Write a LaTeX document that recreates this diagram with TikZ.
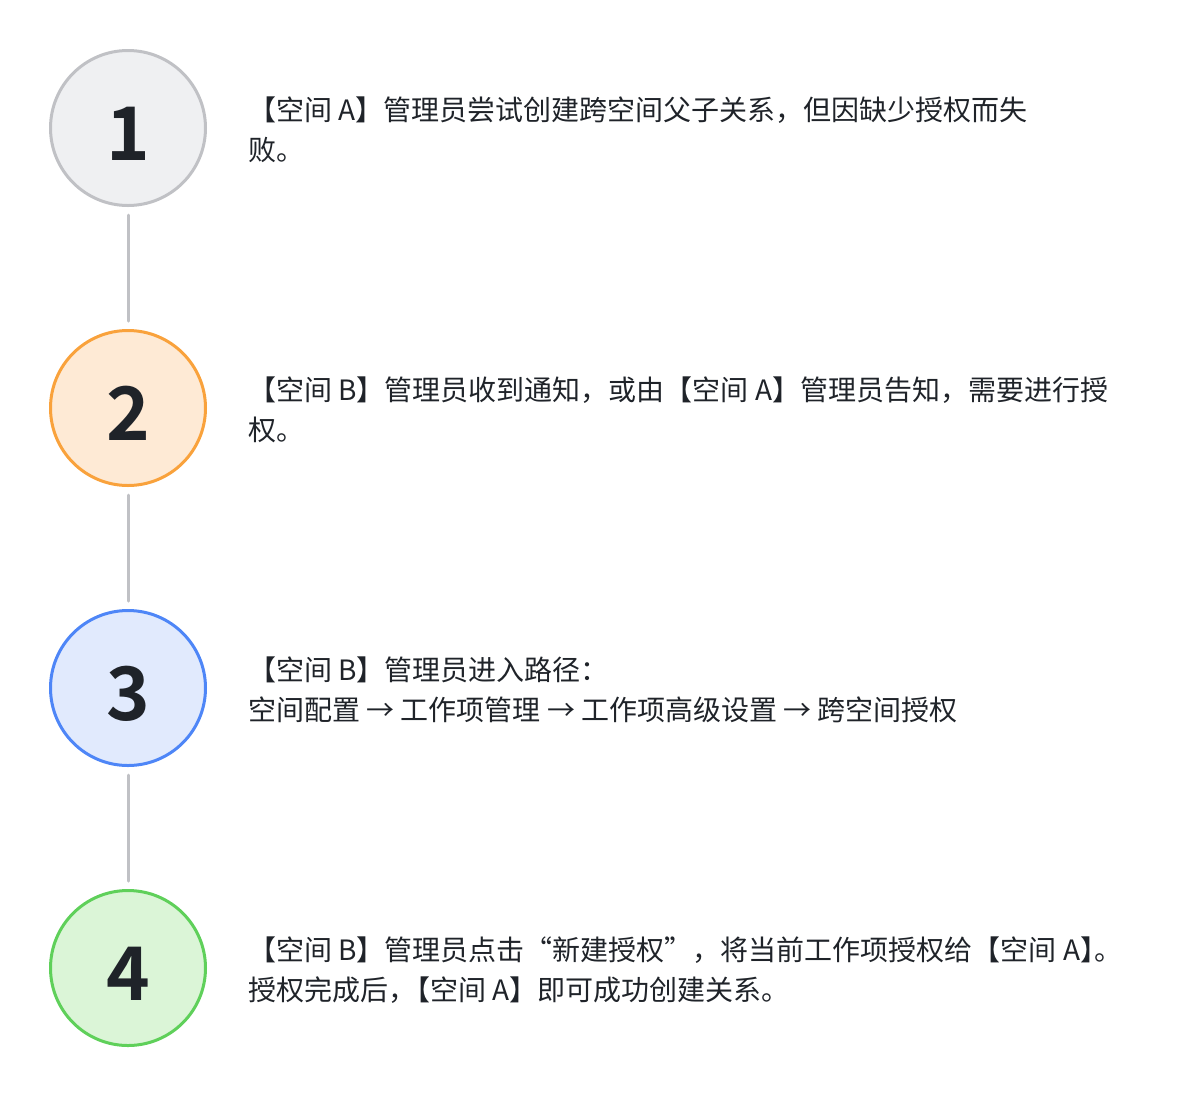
\documentclass[tikz,border=0pt]{standalone}
\usepackage{fontspec}
\setmainfont{Noto Sans CJK SC}
\newfontfamily\numfont{Noto Sans CJK SC Bold}
\usetikzlibrary{chains, positioning}

\definecolor{inkdark}{HTML}{1F2329}
\definecolor{linegray}{HTML}{C0C1C5}
\definecolor{grayfill}{HTML}{EFF0F2}
\definecolor{orangeline}{HTML}{F9A23C}
\definecolor{orangefill}{HTML}{FEEAD5}
\definecolor{blueline}{HTML}{4E86F7}
\definecolor{bluefill}{HTML}{E1EAFD}
\definecolor{greenline}{HTML}{5FD05A}
\definecolor{greenfill}{HTML}{DBF5D7}

\tikzset{
  stepdot/.style={circle, line width=3pt, minimum size=155pt, inner sep=0pt,
    text height=65pt, text depth=0pt,
    text=inkdark, font=\numfont\fontsize{74}{74}\selectfont},
  steptext/.style={anchor=west, align=left, text=inkdark, inner sep=0pt,
    font=\fontsize{28}{40}\selectfont},
  link/.style={draw=linegray, line width=3pt, line cap=round}
}

\begin{document}
\begin{tikzpicture}[x=1pt, y=1pt]
    \useasboundingbox (0,0) rectangle (1196,-1096);

    \begin{scope}[start chain=going below, node distance=122pt]
      \node[on chain, stepdot, draw=linegray, fill=grayfill] (s1) at (128,-128) {1};
      \node[on chain, stepdot, draw=orangeline, fill=orangefill] (s2) {2};
      \node[on chain, stepdot, draw=blueline, fill=bluefill] (s3) {3};
      \node[on chain, stepdot, draw=greenline, fill=greenfill] (s4) {4};
    \end{scope}

    \node[steptext] (t1) at (248,-130) {【空间 A】管理员尝试创建跨空间父子关系，但因缺少授权而失\\败。};
    \node[steptext] (t2) at (248,-410) {【空间 B】管理员收到通知，或由【空间 A】管理员告知，需要进行授\\权。};
    \node[steptext] (t3) at (248,-690) {【空间 B】管理员进入路径：\\空间配置 → 工作项管理 → 工作项高级设置 → 跨空间授权};
    \node[steptext] (t4) at (248,-970) {【空间 B】管理员点击“新建授权”，将当前工作项授权给【空间 A】\kern-.5em。\\授权完成后，\kern-.5em【空间 A】即可成功创建关系。};

    \draw[link, shorten <=8pt, shorten >=8pt] (s1) -- (s2);
    \draw[link, shorten <=8pt, shorten >=8pt] (s2) -- (s3);
    \draw[link, shorten <=8pt, shorten >=8pt] (s3) -- (s4);
  \end{tikzpicture}
\end{document}
